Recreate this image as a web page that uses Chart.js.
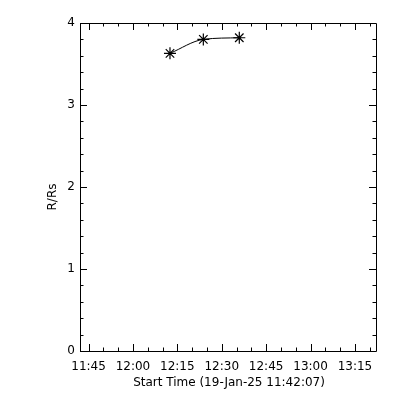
<!DOCTYPE html>
<html>
<head>
<meta charset="utf-8">
<script src="https://cdn.jsdelivr.net/npm/chart.js@4"></script>
<style>
  body { margin: 0; background: #fff; }
  #wrap { width: 400px; height: 400px; }
</style>
</head>
<body>
<div id="wrap"><canvas id="myChart" width="400" height="400"></canvas></div>
<script>
// data
var startLabel = '11:42:07';
var endLabel = '13:22:07';
var times = ['12:12:31', '12:23:47', '12:35:56'];
var heights = [3.63, 3.80, 3.82];
var xTickLabels = ['11:45', '12:00', '12:15', '12:30', '12:45', '13:00', '13:15'];
var yTickLabels = [0, 1, 2, 3, 4];
var xTitle = 'Start Time (19-Jan-25 11:42:07)';
var yTitle = 'R/Rs';

// minutes since midnight
function toMin(s){
    var p = s.split(':');
    return (+p[0]) * 60 + (+p[1]) + (p[2] ? (+p[2]) / 60 : 0);
}
function fmt(v){
    var h = Math.floor(v / 60);
    var m = Math.round(v - h * 60);
    return h + ':' + (m < 10 ? '0' + m : m);
}

var FONT = 'DejaVu Sans';
var points = [];
for(let i = 0; i < times.length; i++){
    points.push({x: toMin(times[i]), y: heights[i]});
}
var xMajor = xTickLabels.map(toMin);

// IDL style box with inward ticks on all four sides + axis titles
var idlAxes = {
    id: 'idlAxes',
    afterDraw: function(chart){
        var ctx = chart.ctx;
        var a = chart.chartArea;
        var xs = chart.scales.x, ys = chart.scales.y;
        ctx.save();
        ctx.strokeStyle = '#000';
        ctx.lineWidth = 1;
        ctx.beginPath();
        ctx.rect(Math.round(a.left) + 0.5, Math.round(a.top) + 0.5,
                 Math.round(a.right - a.left), Math.round(a.bottom - a.top));
        // x ticks, minor every 5 min
        for(let v = Math.ceil(xs.min / 5) * 5; v <= xs.max; v += 5){
            var px = Math.round(xs.getPixelForValue(v)) + 0.5;
            var len = (v % 15 === 0) ? 7 : 3.5;
            ctx.moveTo(px, a.bottom); ctx.lineTo(px, a.bottom - len);
            ctx.moveTo(px, a.top); ctx.lineTo(px, a.top + len);
        }
        // y ticks, minor every 0.2
        for(let k = 0; k <= 20; k++){
            var v2 = k * 0.2;
            var py = Math.round(ys.getPixelForValue(v2)) + 0.5;
            var len2 = (k % 5 === 0) ? 7 : 3.5;
            ctx.moveTo(a.left, py); ctx.lineTo(a.left + len2, py);
            ctx.moveTo(a.right, py); ctx.lineTo(a.right - len2, py);
        }
        ctx.stroke();

        ctx.fillStyle = '#000';
        ctx.font = '12px "' + FONT + '"';
        ctx.textAlign = 'center';
        ctx.textBaseline = 'middle';
        ctx.fillText(xTitle, (a.left + a.right) / 2 + 1, 383);
        ctx.translate(53, 197);
        ctx.rotate(-Math.PI / 2);
        ctx.fillText(yTitle, 0, 0);
        ctx.restore();
    }
};

var myChart = new Chart(document.getElementById('myChart'), {
    type: 'line',
    data: {
        datasets: [{
            data: points,
            borderColor: '#000',
            backgroundColor: '#000',
            borderWidth: 1,
            cubicInterpolationMode: 'monotone',
            pointStyle: 'star',
            pointRadius: 6,
            pointBorderWidth: 1.2,
            pointBorderColor: '#000',
            fill: false
        }]
    },
    options: {
        responsive: false,
        animation: false,
        events: [],
        layout: { padding: { top: 23, right: 24, left: 0, bottom: 0 } },
        plugins: { legend: { display: false }, tooltip: { enabled: false } },
        scales: {
            x: {
                type: 'linear',
                min: toMin(startLabel),
                max: toMin(endLabel),
                border: { display: false },
                grid: { display: false, drawTicks: false },
                afterBuildTicks: function(s){
                    s.ticks = xMajor.map(function(v){ return {value: v}; });
                },
                afterFit: function(s){ s.height = 49; },
                ticks: {
                    color: '#000',
                    padding: 9,
                    maxRotation: 0,
                    autoSkip: false,
                    font: { family: FONT, size: 12 },
                    callback: function(v){ return fmt(v); }
                }
            },
            y: {
                min: yTickLabels[0],
                max: yTickLabels[yTickLabels.length - 1],
                border: { display: false },
                grid: { display: false, drawTicks: false },
                afterFit: function(s){ s.width = 80; },
                ticks: {
                    color: '#000',
                    padding: 5,
                    stepSize: 1,
                    font: { family: FONT, size: 12 }
                }
            }
        }
    },
    plugins: [idlAxes]
});
</script>
</body>
</html>
